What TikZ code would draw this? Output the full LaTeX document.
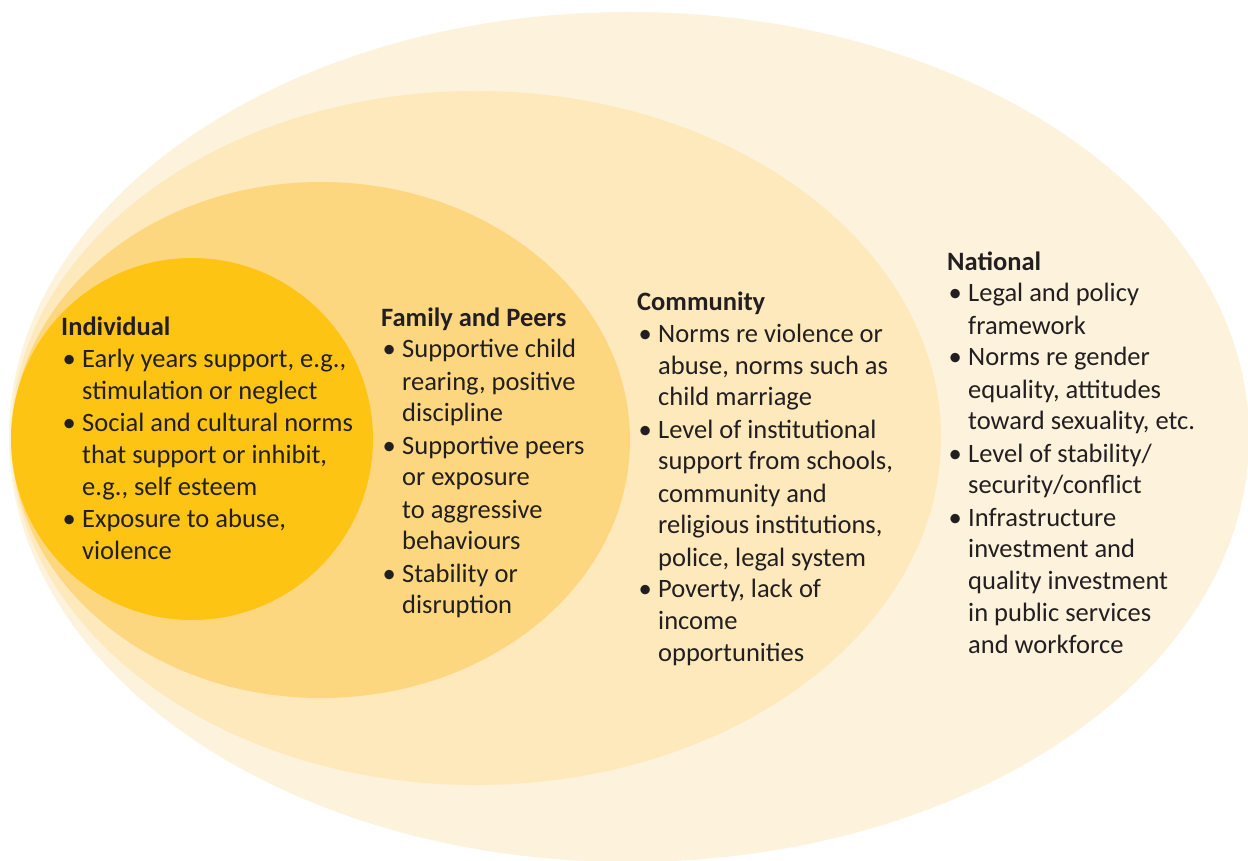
\documentclass[tikz,border=0pt]{standalone}
\usepackage{fontspec}
\setmainfont{Carlito}
\definecolor{cnat}{HTML}{FDF2DC}
\definecolor{ccom}{HTML}{FEE9BC}
\definecolor{cfam}{HTML}{FDD77F}
\definecolor{cind}{HTML}{FDC414}
\definecolor{ctxt}{HTML}{231F20}
\newcommand\bl[1]{\makebox[21pt][l]{\hspace{1.5pt}\textbullet}#1}
\newcommand\cl[1]{\hspace*{21pt}#1}
\newcommand\hd[1]{\textbf{#1}}
\begin{document}
\begin{tikzpicture}[x=1pt,y=-1pt,
  blk/.style={anchor=base west,inner sep=0pt,text=ctxt,
    font=\fontsize{26.5pt}{32pt}\selectfont}]
\useasboundingbox[fill=white] (0,0) rectangle (1248,861);
\fill[cnat] (629,437) ellipse [x radius=620pt, y radius=425pt];
\fill[ccom] (476,438) ellipse [x radius=465pt, y radius=347pt];
\fill[cfam] (321,440) ellipse [x radius=309pt, y radius=258pt];
\fill[cind] (192,439) ellipse [x radius=181pt, y radius=181pt];

\node[blk] (ind) at (61,335) {\begin{tabular}[t]{@{}l@{}}
\hd{Individual}\\
\bl{Early years support, e.g.,}\\
\cl{stimulation or neglect}\\
\bl{Social and cultural norms}\\
\cl{that support or inhibit,}\\
\cl{e.g., self esteem}\\
\bl{Exposure to abuse,}\\
\cl{violence}
\end{tabular}};

\node[blk] (fam) at (381,326) {\begin{tabular}[t]{@{}l@{}}
\hd{Family and Peers}\\
\bl{Supportive child}\\
\cl{rearing, positive}\\
\cl{discipline}\\
\bl{Supportive peers}\\
\cl{or exposure}\\
\cl{to aggressive}\\
\cl{behaviours}\\
\bl{Stability or}\\
\cl{disruption}
\end{tabular}};

\node[blk] (com) at (637,310) {\begin{tabular}[t]{@{}l@{}}
\hd{Community}\\
\bl{Norms re violence or}\\
\cl{abuse, norms such as}\\
\cl{child marriage}\\
\bl{Level of institutional}\\
\cl{support from schools,}\\
\cl{community and}\\
\cl{religious institutions,}\\
\cl{police, legal system}\\
\bl{Poverty, lack of}\\
\cl{income}\\
\cl{opportunities}
\end{tabular}};

\node[blk] (nat) at (947,270) {\begin{tabular}[t]{@{}l@{}}
\hd{National}\\
\bl{Legal and policy}\\
\cl{framework}\\
\bl{Norms re gender}\\
\cl{equality, attitudes}\\
\cl{toward sexuality, etc.}\\
\bl{Level of stability/}\\
\cl{security/conflict}\\
\bl{Infrastructure}\\
\cl{investment and}\\
\cl{quality investment}\\
\cl{in public services}\\
\cl{and workforce}
\end{tabular}};
\end{tikzpicture}
\end{document}
